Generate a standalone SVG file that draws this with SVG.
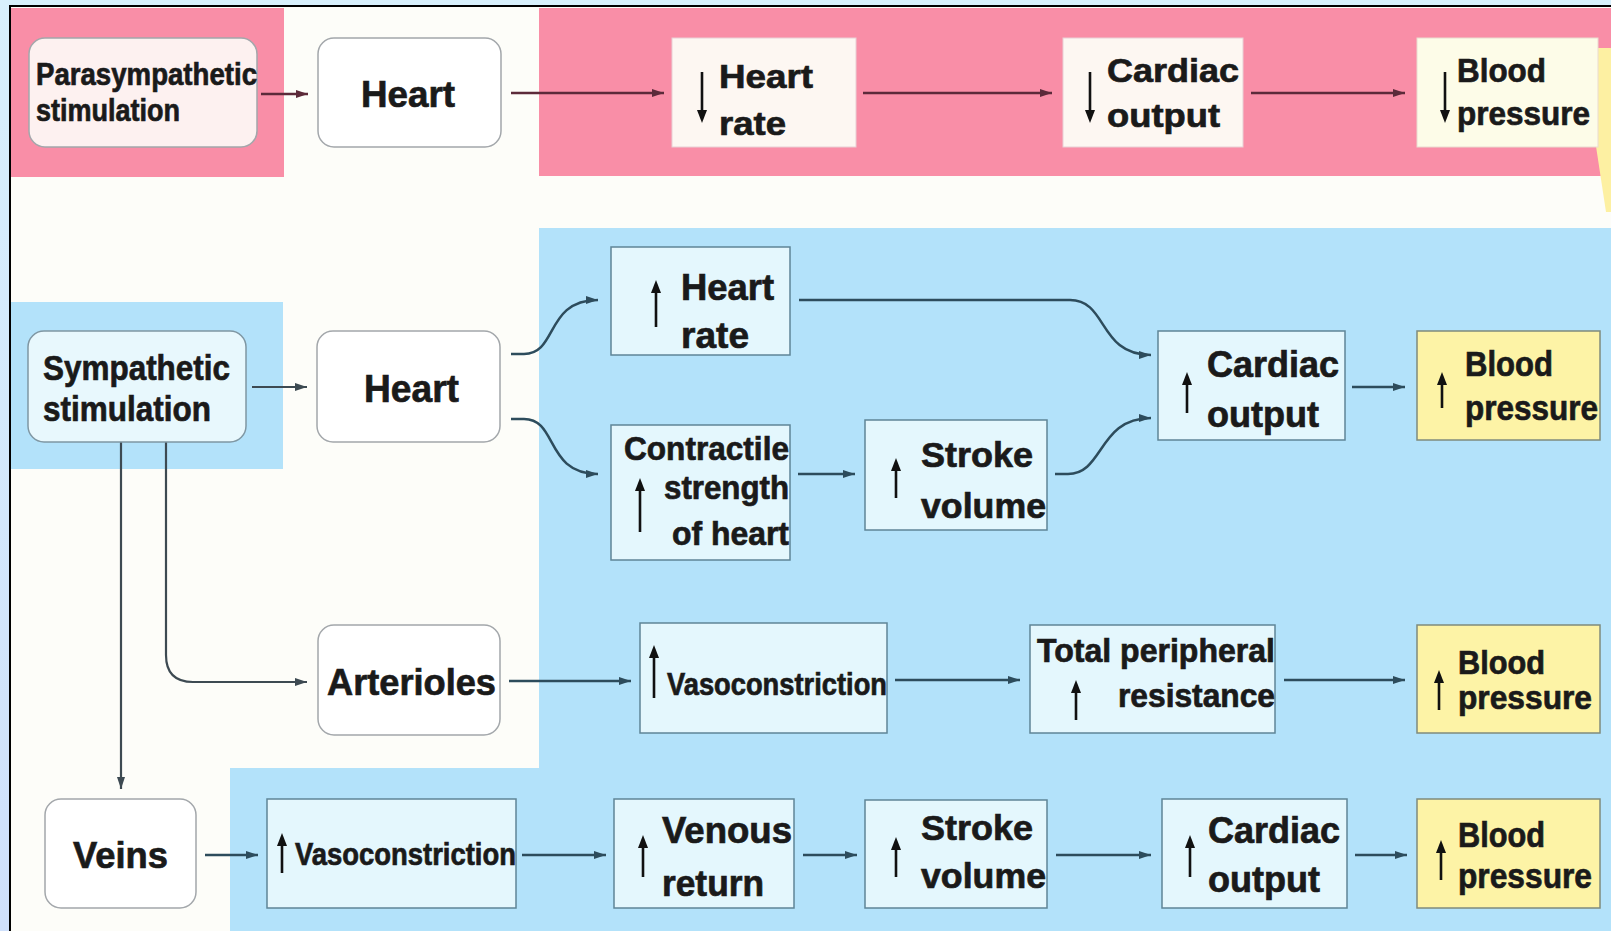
<svg xmlns="http://www.w3.org/2000/svg" width="1611" height="931" viewBox="0 0 1611 931">
<defs>
<style>
.t{font-family:"Liberation Sans",Arial,sans-serif;font-weight:bold;fill:#1a1a1a;stroke:#1a1a1a;stroke-width:0.7;}
.rnd{stroke:#a3a7ab;stroke-width:1.5;}
.bx{fill:#e4f7fd;stroke:#5f8597;stroke-width:1.5;}
.yl{fill:#fdf3a6;stroke:#7f8b7c;stroke-width:1.5;}
.pk{fill:#fdf7f2;stroke:#e9cfd5;stroke-width:1;}
.cw{fill:none;stroke:#3d4a52;stroke-width:2.2;marker-end:url(#aw);}
.cb{fill:none;stroke:#2d4c5c;stroke-width:2.5;marker-end:url(#ab);}
.cp{fill:none;stroke:#5c2a3a;stroke-width:2.5;marker-end:url(#ap);}
.ud{stroke:#111;stroke-width:2.6;fill:none;}
</style>
<marker id="aw" viewBox="0 0 12 8" refX="12" refY="4" markerWidth="12" markerHeight="8" markerUnits="userSpaceOnUse" orient="auto"><path d="M0,0 L12,4 L0,8 z" fill="#3d4a52"/></marker>
<marker id="ab" viewBox="0 0 12 8" refX="12" refY="4" markerWidth="12" markerHeight="8" markerUnits="userSpaceOnUse" orient="auto"><path d="M0,0 L12,4 L0,8 z" fill="#2d4c5c"/></marker>
<marker id="ap" viewBox="0 0 12 8" refX="12" refY="4" markerWidth="12" markerHeight="8" markerUnits="userSpaceOnUse" orient="auto"><path d="M0,0 L12,4 L0,8 z" fill="#5c2a3a"/></marker>
<linearGradient id="bg" x1="0" y1="0" x2="0" y2="1"><stop offset="0" stop-color="#d8f0fc"/><stop offset="1" stop-color="#cfe0fb"/></linearGradient>
</defs>

<!-- background and frame -->
<rect x="0" y="0" width="1611" height="931" fill="url(#bg)"/>
<rect x="10" y="6" width="1620" height="940" fill="#fdfdf9" stroke="#000" stroke-width="2"/>

<!-- coloured bands -->
<rect x="11" y="8" width="273" height="169" fill="#f98ea7"/>
<rect x="539" y="8" width="1072" height="168" fill="#f98ea7"/>
<rect x="11" y="302" width="272" height="167" fill="#b3e2fa"/>
<rect x="539" y="228" width="1072" height="703" fill="#b3e2fa"/>
<rect x="230" y="768" width="320" height="163" fill="#b3e2fa"/>
<polygon points="1586,48 1611,48 1611,212 1606,212 1592,120" fill="#fdf0a2"/>

<!-- connectors -->
<g id="connectors">
<line class="cp" x1="261" y1="94" x2="308" y2="94"/>
<line class="cp" x1="511" y1="93" x2="664" y2="93"/>
<line class="cp" x1="863" y1="93" x2="1052" y2="93"/>
<line class="cp" x1="1251" y1="93" x2="1405" y2="93"/>

<line class="cw" x1="252" y1="387" x2="307" y2="387"/>
<path class="cb" d="M511,354 H524 C558,354 545,300 598,300"/>
<path class="cb" d="M511,419 H524 C558,419 545,474 598,474"/>
<line class="cb" x1="798" y1="474" x2="855" y2="474"/>
<path class="cb" d="M799,300 H1070 C1108,300 1098,355 1151,355"/>
<path class="cb" d="M1055,474 H1068 C1104,474 1098,418 1151,418"/>
<line class="cb" x1="1352" y1="387" x2="1405" y2="387"/>

<path class="cw" d="M166,442 V655 Q166,682 193,682 H307"/>
<line class="cw" x1="121" y1="442" x2="121" y2="789"/>

<line class="cb" x1="509" y1="681" x2="631" y2="681"/>
<line class="cb" x1="895" y1="680" x2="1020" y2="680"/>
<line class="cb" x1="1284" y1="680" x2="1405" y2="680"/>

<line class="cb" x1="205" y1="855" x2="258" y2="855"/>
<line class="cb" x1="522" y1="855" x2="606" y2="855"/>
<line class="cb" x1="803" y1="855" x2="857" y2="855"/>
<line class="cb" x1="1056" y1="855" x2="1151" y2="855"/>
<line class="cb" x1="1355" y1="855" x2="1407" y2="855"/>
</g>

<!-- Row 1: parasympathetic -->
<g id="para">
<rect x="29" y="38" width="228" height="109" rx="16" fill="#fdf1f0" class="rnd"/>
<text class="t" x="36" y="85" font-size="31" textLength="221" lengthAdjust="spacingAndGlyphs">Parasympathetic</text>
<text class="t" x="36" y="121" font-size="31" textLength="144" lengthAdjust="spacingAndGlyphs">stimulation</text>
</g>
<g id="heart1">
<rect x="318" y="38" width="183" height="109" rx="16" fill="#ffffff" class="rnd"/>
<text class="t" x="361" y="107" font-size="37" textLength="94" lengthAdjust="spacingAndGlyphs">Heart</text>
</g>
<g id="hr1">
<rect x="672" y="38" width="184" height="109" class="pk"/>
<path class="ud" d="M702,72 V114"/><path d="M697,110 L702,123 L707,110 z" fill="#111"/>
<text class="t" x="719" y="88" font-size="34" textLength="94" lengthAdjust="spacingAndGlyphs">Heart</text>
<text class="t" x="719" y="135" font-size="34" textLength="67" lengthAdjust="spacingAndGlyphs">rate</text>
</g>
<g id="co1">
<rect x="1063" y="38" width="180" height="109" class="pk"/>
<path class="ud" d="M1090,72 V114"/><path d="M1085,110 L1090,123 L1095,110 z" fill="#111"/>
<text class="t" x="1107" y="82" font-size="34" textLength="132" lengthAdjust="spacingAndGlyphs">Cardiac</text>
<text class="t" x="1107" y="127" font-size="34" textLength="113" lengthAdjust="spacingAndGlyphs">output</text>
</g>
<g id="bp1">
<rect x="1417" y="38" width="181" height="109" fill="#fdfce8" stroke="#eadbd0" stroke-width="1"/>
<path class="ud" d="M1445,72 V114"/><path d="M1440,110 L1445,123 L1450,110 z" fill="#111"/>
<text class="t" x="1457" y="82" font-size="34" textLength="89" lengthAdjust="spacingAndGlyphs">Blood</text>
<text class="t" x="1457" y="125" font-size="34" textLength="133" lengthAdjust="spacingAndGlyphs">pressure</text>
</g>

<!-- Row 2: sympathetic / heart -->
<g id="symp">
<rect x="28" y="331" width="218" height="111" rx="16" fill="#e8f8fd" stroke="#7f97a3" stroke-width="1.5"/>
<text class="t" x="43" y="380" font-size="35" textLength="187" lengthAdjust="spacingAndGlyphs">Sympathetic</text>
<text class="t" x="43" y="421" font-size="35" textLength="168" lengthAdjust="spacingAndGlyphs">stimulation</text>
</g>
<g id="heart2">
<rect x="317" y="331" width="183" height="111" rx="16" fill="#ffffff" class="rnd"/>
<text class="t" x="364" y="402" font-size="38" textLength="95" lengthAdjust="spacingAndGlyphs">Heart</text>
</g>
<g id="hr2">
<rect x="611" y="247" width="179" height="108" class="bx"/>
<path class="ud" d="M656,290 V327"/><path d="M651,293 L656,280 L661,293 z" fill="#111"/>
<text class="t" x="681" y="300" font-size="36" textLength="93" lengthAdjust="spacingAndGlyphs">Heart</text>
<text class="t" x="681" y="348" font-size="36" textLength="68" lengthAdjust="spacingAndGlyphs">rate</text>
</g>
<g id="contractile">
<rect x="611" y="425" width="179" height="135" class="bx"/>
<path class="ud" d="M640,488 V532"/><path d="M635,491 L640,478 L645,491 z" fill="#111"/>
<text class="t" x="624" y="460" font-size="33" textLength="165" lengthAdjust="spacingAndGlyphs">Contractile</text>
<text class="t" x="664" y="499" font-size="33" textLength="125" lengthAdjust="spacingAndGlyphs">strength</text>
<text class="t" x="672" y="545" font-size="33" textLength="117" lengthAdjust="spacingAndGlyphs">of heart</text>
</g>
<g id="sv2">
<rect x="865" y="420" width="182" height="110" class="bx"/>
<path class="ud" d="M896,468 V498"/><path d="M891,471 L896,458 L901,471 z" fill="#111"/>
<text class="t" x="921" y="467" font-size="35" textLength="112" lengthAdjust="spacingAndGlyphs">Stroke</text>
<text class="t" x="921" y="518" font-size="35" textLength="125" lengthAdjust="spacingAndGlyphs">volume</text>
</g>
<g id="co2">
<rect x="1158" y="331" width="187" height="109" class="bx"/>
<path class="ud" d="M1187,382 V413"/><path d="M1182,385 L1187,372 L1192,385 z" fill="#111"/>
<text class="t" x="1207" y="377" font-size="36" textLength="132" lengthAdjust="spacingAndGlyphs">Cardiac</text>
<text class="t" x="1207" y="427" font-size="36" textLength="112" lengthAdjust="spacingAndGlyphs">output</text>
</g>
<g id="bp2">
<rect x="1417" y="331" width="183" height="109" class="yl"/>
<path class="ud" d="M1442,382 V408"/><path d="M1437,385 L1442,372 L1447,385 z" fill="#111"/>
<text class="t" x="1465" y="376" font-size="35" textLength="88" lengthAdjust="spacingAndGlyphs">Blood</text>
<text class="t" x="1465" y="420" font-size="35" textLength="133" lengthAdjust="spacingAndGlyphs">pressure</text>
</g>

<!-- Row 3: arterioles -->
<g id="arterioles">
<rect x="318" y="625" width="182" height="110" rx="16" fill="#ffffff" class="rnd"/>
<text class="t" x="327" y="695" font-size="37" textLength="169" lengthAdjust="spacingAndGlyphs">Arterioles</text>
</g>
<g id="vaso3">
<rect x="640" y="623" width="247" height="110" class="bx"/>
<path class="ud" d="M654,655 V698"/><path d="M649,658 L654,645 L659,658 z" fill="#111"/>
<text class="t" x="667" y="695" font-size="31" textLength="220" lengthAdjust="spacingAndGlyphs">Vasoconstriction</text>
</g>
<g id="tpr">
<rect x="1030" y="625" width="245" height="108" class="bx"/>
<path class="ud" d="M1076,690 V720"/><path d="M1071,693 L1076,680 L1081,693 z" fill="#111"/>
<text class="t" x="1037" y="662" font-size="33" textLength="238" lengthAdjust="spacingAndGlyphs">Total peripheral</text>
<text class="t" x="1118" y="707" font-size="33" textLength="157" lengthAdjust="spacingAndGlyphs">resistance</text>
</g>
<g id="bp3">
<rect x="1417" y="625" width="183" height="108" class="yl"/>
<path class="ud" d="M1439,680 V710"/><path d="M1434,683 L1439,670 L1444,683 z" fill="#111"/>
<text class="t" x="1458" y="674" font-size="33" textLength="87" lengthAdjust="spacingAndGlyphs">Blood</text>
<text class="t" x="1458" y="709" font-size="33" textLength="134" lengthAdjust="spacingAndGlyphs">pressure</text>
</g>

<!-- Row 4: veins -->
<g id="veins">
<rect x="45" y="799" width="151" height="109" rx="16" fill="#ffffff" class="rnd"/>
<text class="t" x="73" y="868" font-size="37" textLength="95" lengthAdjust="spacingAndGlyphs">Veins</text>
</g>
<g id="vaso4">
<rect x="267" y="799" width="249" height="109" class="bx"/>
<path class="ud" d="M282,843 V873"/><path d="M277,846 L282,833 L287,846 z" fill="#111"/>
<text class="t" x="295" y="865" font-size="31" textLength="221" lengthAdjust="spacingAndGlyphs">Vasoconstriction</text>
</g>
<g id="venous">
<rect x="614" y="799" width="180" height="109" class="bx"/>
<path class="ud" d="M643,845 V877"/><path d="M638,848 L643,835 L648,848 z" fill="#111"/>
<text class="t" x="662" y="843" font-size="36" textLength="130" lengthAdjust="spacingAndGlyphs">Venous</text>
<text class="t" x="662" y="896" font-size="36" textLength="102" lengthAdjust="spacingAndGlyphs">return</text>
</g>
<g id="sv4">
<rect x="865" y="800" width="182" height="108" class="bx"/>
<path class="ud" d="M896,847 V877"/><path d="M891,850 L896,837 L901,850 z" fill="#111"/>
<text class="t" x="921" y="840" font-size="35" textLength="112" lengthAdjust="spacingAndGlyphs">Stroke</text>
<text class="t" x="921" y="888" font-size="35" textLength="125" lengthAdjust="spacingAndGlyphs">volume</text>
</g>
<g id="co4">
<rect x="1162" y="799" width="185" height="109" class="bx"/>
<path class="ud" d="M1190,845 V877"/><path d="M1185,848 L1190,835 L1195,848 z" fill="#111"/>
<text class="t" x="1208" y="843" font-size="36" textLength="132" lengthAdjust="spacingAndGlyphs">Cardiac</text>
<text class="t" x="1208" y="892" font-size="36" textLength="112" lengthAdjust="spacingAndGlyphs">output</text>
</g>
<g id="bp4">
<rect x="1417" y="799" width="183" height="109" class="yl"/>
<path class="ud" d="M1441,850 V880"/><path d="M1436,853 L1441,840 L1446,853 z" fill="#111"/>
<text class="t" x="1458" y="847" font-size="35" textLength="87" lengthAdjust="spacingAndGlyphs">Blood</text>
<text class="t" x="1458" y="888" font-size="35" textLength="134" lengthAdjust="spacingAndGlyphs">pressure</text>
</g>
</svg>
